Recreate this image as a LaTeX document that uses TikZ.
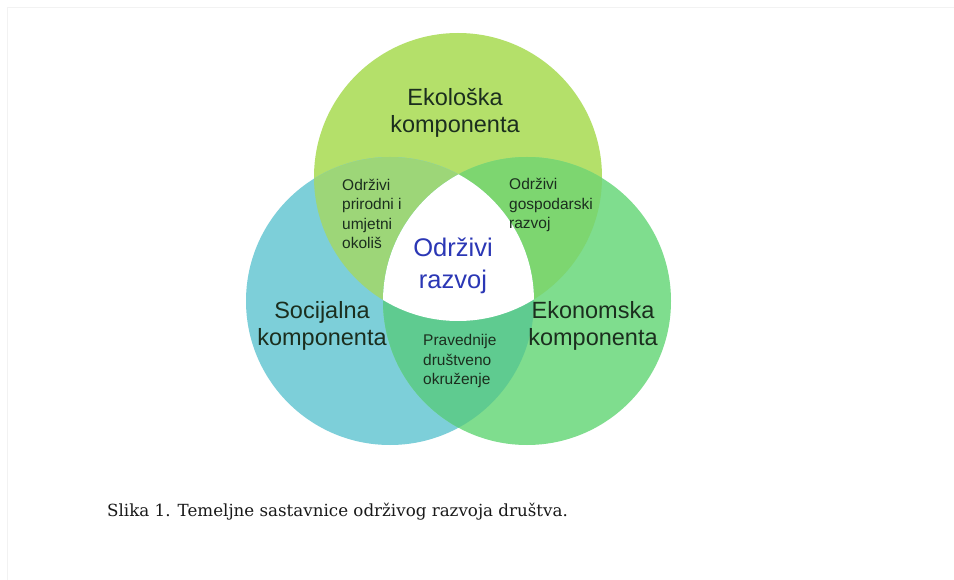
\documentclass[tikz,border=0pt]{standalone}
\usepackage{fontspec}
\newfontfamily\labfont{Liberation Sans}
\newfontfamily\captfont{DejaVu Serif}
\definecolor{topc}{HTML}{B4E06A}
\definecolor{leftc}{HTML}{7DCFD9}
\definecolor{rightc}{HTML}{7FDD8E}
\definecolor{tlc}{HTML}{9DD678}
\definecolor{trc}{HTML}{7DD670}
\definecolor{lrc}{HTML}{5FCB90}
\definecolor{txtc}{HTML}{1B2E1E}
\definecolor{bluec}{HTML}{2B37B5}
\tikzset{
  biglabel/.style={font=\labfont\fontsize{23.5}{27}\selectfont, text=txtc, align=center, inner sep=0pt},
  smalllabel/.style={font=\labfont\fontsize{15.5}{19.5}\selectfont, text=txtc, align=left, inner sep=0pt, anchor=west},
  centerlabel/.style={font=\labfont\fontsize{25.5}{32}\selectfont, text=bluec, align=center, inner sep=0pt},
  captionstyle/.style={font=\captfont\fontsize{16.7}{19}\selectfont, text=black!90, inner sep=0pt, anchor=west},
  frameline/.style={draw=black!5, line width=1pt}
}
\begin{document}
\begin{tikzpicture}[x=1pt,y=-1pt]
\useasboundingbox (0,0) rectangle (954,580);
\fill[white] (0,0) rectangle (954,580);
\draw[frameline] (7.5,580) -- (7.5,7.5) -- (954,7.5);
\coordinate (T) at (458,177);
\coordinate (L) at (390,301);
\coordinate (R) at (527,301);
\def\rr{144pt}
\fill[topc] (T) circle[radius=\rr];
\fill[leftc] (L) circle[radius=\rr];
\fill[rightc] (R) circle[radius=\rr];
\begin{scope}
  \clip (T) circle[radius=\rr];
  \fill[tlc] (L) circle[radius=\rr];
  \fill[trc] (R) circle[radius=\rr];
\end{scope}
\begin{scope}
  \clip (L) circle[radius=\rr];
  \fill[lrc] (R) circle[radius=\rr];
\end{scope}
\begin{scope}
  \clip (T) circle[radius=\rr];
  \clip (L) circle[radius=\rr];
  \fill[white] (R) circle[radius=\rr];
\end{scope}
\node[biglabel] (eko) at (455,113) {Ekološka\\komponenta};
\node[biglabel] (soc) at (322,326) {Socijalna\\komponenta};
\node[biglabel] (ekon) at (593,326) {Ekonomska\\komponenta};
\node[centerlabel] (odr) at (453,266) {Održivi\\razvoj};
\node[smalllabel] (tl) at (342,214) {Održivi\\prirodni i\\umjetni\\okoliš};
\node[smalllabel] (tr) at (509,205) {Održivi\\gospodarski\\razvoj};
\node[smalllabel] (lr) at (423,361) {Pravednije\\društveno\\okruženje};
\node[captionstyle] (cap) at (107,512) {Slika 1. Temeljne sastavnice održivog razvoja društva.};
\end{tikzpicture}
\end{document}
